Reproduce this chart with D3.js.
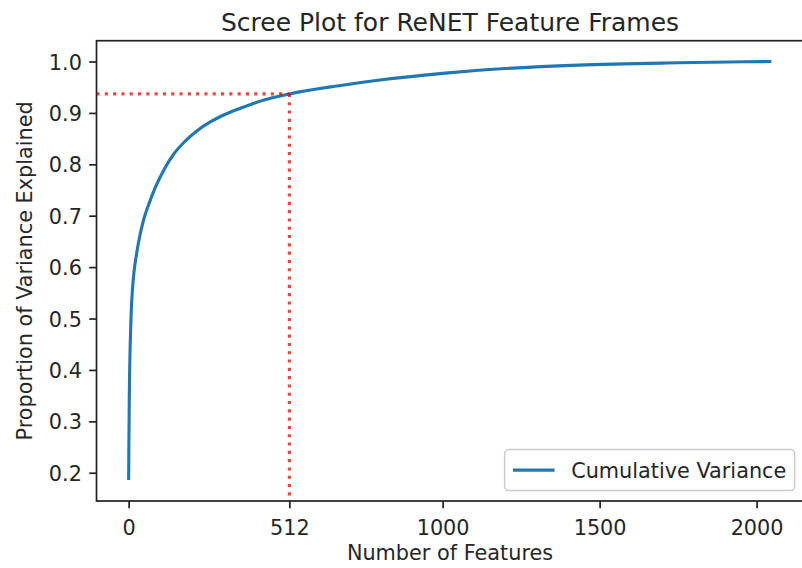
<!DOCTYPE html>
<html>
<head>
<meta charset="utf-8">
<script src="https://cdn.jsdelivr.net/npm/d3@7"></script>
<style>
  body { margin: 0; background: #fff; }
  text { font-family: "DejaVu Sans", sans-serif; fill: #262626; }
</style>
</head>
<body>
<div id="container"></div>
<script>
// cumulative explained variance
const features = [0, 1, 2, 3, 5, 8, 12, 17, 25, 37, 50, 67, 85, 113, 145, 180, 217, 260, 301, 360, 417, 512, 670, 800, 1000, 1115, 1432, 1749, 2047];
const cumVariance = [0.186, 0.27, 0.34, 0.39, 0.45, 0.51, 0.555, 0.59, 0.625, 0.665, 0.697, 0.727, 0.755, 0.79, 0.821, 0.845, 0.865, 0.8825, 0.8955, 0.910, 0.9225, 0.937, 0.953, 0.964, 0.977, 0.983, 0.993, 0.9975, 1.0];
const xTicks = [0, 512, 1000, 1500, 2000];
const yTicks = [0.2, 0.3, 0.4, 0.5, 0.6, 0.7, 0.8, 0.9, 1.0];
const cutoff = 512;
const cutoffVariance = 0.937;
const seriesName = "Cumulative Variance";

const w = 802, h = 568;
const margin = {top: 40.7, left: 96.5, bottom: 67, right: -1.5};
const graphWidth = w - margin.left - margin.right;
const graphHeight = h - margin.top - margin.bottom;
const fs = 20.8;

const svg = d3.select("#container").append("svg").attr("width", w).attr("height", h);
const graph = svg.append("g").attr("transform", `translate(${margin.left}, ${margin.top})`);

const xScale = d3.scaleLinear().domain([-102.35, 2149.35]).range([0, graphWidth]);
const yScale = d3.scaleLinear().domain([0.145, 1.0405]).range([graphHeight, 0]);

const data = features.map((f, i) => ({x: f, y: cumVariance[i]}));

const line = d3.line()
  .x(d => xScale(d.x))
  .y(d => yScale(d.y))
  .curve(d3.curveMonotoneX);

graph.append("path")
  .datum(data)
  .attr("d", line)
  .attr("fill", "none")
  .attr("stroke", "#1f77b4")
  .attr("stroke-width", 3.1)
  .attr("stroke-linejoin", "round");

// cut-off guides
const dotted = {stroke: "red", width: 3.1, dash: "3.1,5.2"};
graph.append("line")
  .attr("x1", xScale(xScale.domain()[0])).attr("x2", xScale(cutoff))
  .attr("y1", yScale(cutoffVariance)).attr("y2", yScale(cutoffVariance))
  .attr("stroke", dotted.stroke).attr("stroke-opacity", 0.75)
  .attr("stroke-width", dotted.width).attr("stroke-dasharray", dotted.dash);
graph.append("line")
  .attr("x1", xScale(cutoff)).attr("x2", xScale(cutoff))
  .attr("y1", yScale(cutoffVariance)).attr("y2", yScale(yScale.domain()[0]))
  .attr("stroke", dotted.stroke).attr("stroke-opacity", 0.75)
  .attr("stroke-width", dotted.width).attr("stroke-dasharray", dotted.dash);

// axes
const xAxis = d3.axisBottom(xScale).tickValues(xTicks).tickFormat(d3.format("d"))
  .tickSize(7.3).tickPadding(7.3).tickSizeOuter(0);
const yAxis = d3.axisLeft(yScale).tickValues(yTicks).tickFormat(d3.format(".1f"))
  .tickSize(7.3).tickPadding(7.3).tickSizeOuter(0);

const xAxisGroup = graph.append("g").attr("transform", `translate(0, ${graphHeight})`).call(xAxis);
const yAxisGroup = graph.append("g").call(yAxis);

[xAxisGroup, yAxisGroup].forEach(g => {
  g.select(".domain").remove();
  g.selectAll(".tick line").attr("stroke", "#222").attr("stroke-width", 1.7);
  g.selectAll(".tick text").attr("font-size", fs).attr("fill", "#262626")
    .attr("font-family", "DejaVu Sans");
});
xAxisGroup.selectAll(".tick text").attr("dy", "0.95em");
yAxisGroup.selectAll(".tick text").attr("dy", "0.36em");

// frame
graph.append("rect")
  .attr("x", 0).attr("y", 0)
  .attr("width", graphWidth).attr("height", graphHeight)
  .attr("fill", "none").attr("stroke", "#222").attr("stroke-width", 1.7);

// titles
svg.append("text")
  .attr("x", margin.left + graphWidth / 2).attr("y", 30.5)
  .attr("text-anchor", "middle").attr("font-size", 25)
  .text("Scree Plot for ReNET Feature Frames");
svg.append("text")
  .attr("x", margin.left + graphWidth / 2).attr("y", 560)
  .attr("text-anchor", "middle").attr("font-size", fs)
  .text("Number of Features");
svg.append("text")
  .attr("transform", `translate(32, ${margin.top + graphHeight / 2}) rotate(-90)`)
  .attr("text-anchor", "middle").attr("font-size", fs)
  .text("Proportion of Variance Explained");

// legend
const pad = 10.4, bpad = 8.3, handleLen = 41.6, handleGap = 16.6;
const legend = graph.append("g");
const label = legend.append("text").attr("font-size", fs).text(seriesName);
const textW = label.node().getComputedTextLength();
const lw = bpad + handleLen + handleGap + textW + bpad;
const lh = 41;
const lx = graphWidth - pad - lw + 1.5;
const ly = graphHeight - pad - lh;
legend.insert("rect", "text")
  .attr("x", lx).attr("y", ly).attr("width", lw).attr("height", lh)
  .attr("rx", 4).attr("fill", "#fff").attr("fill-opacity", 0.8)
  .attr("stroke", "#ccc").attr("stroke-width", 1.5);
legend.append("line")
  .attr("x1", lx + bpad).attr("x2", lx + bpad + handleLen)
  .attr("y1", ly + lh / 2).attr("y2", ly + lh / 2)
  .attr("stroke", "#1f77b4").attr("stroke-width", 3.1);
label.attr("x", lx + bpad + handleLen + handleGap).attr("y", ly + lh / 2 + 7.6);
</script>
</body>
</html>
